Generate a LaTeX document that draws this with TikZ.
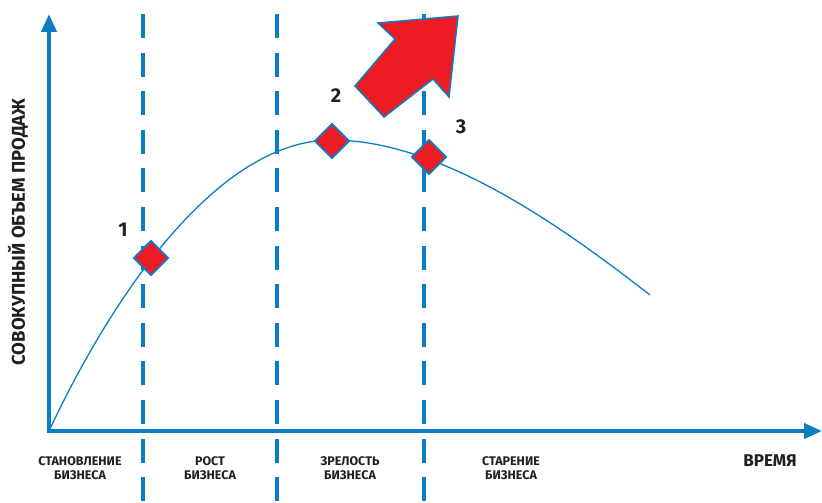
\documentclass[tikz,border=0pt]{standalone}
\usepackage{fontspec}
\setmainfont{Fira Sans}
\usetikzlibrary{positioning,arrows.meta,shapes.geometric}
\definecolor{lineblue}{HTML}{0B7DC4}
\definecolor{markred}{HTML}{ED1C24}
\definecolor{textdark}{HTML}{231F20}
\tikzset{
    x=1pt,
    y=-1pt,
    axis/.style = {
        draw=lineblue,
        line width=4pt,
        -{Triangle[length=18pt,width=15pt]}
    },
    stage/.style = {
        draw=lineblue,
        line width=4pt,
        dash pattern=on 24pt off 14.6pt
    },
    curve/.style = {
        draw=lineblue,
        line width=1.3pt
    },
    marker/.style = {
        draw=lineblue,
        shape=diamond,
        fill=markred,
        minimum size=35pt,
        inner sep=0pt,
        line width=1.8pt
    },
    number/.style = {
        font=\fontsize{20}{20}\selectfont\bfseries,
        text=textdark
    },
    phase/.style = {
        font=\fontsize{12.5}{13.5}\selectfont\bfseries,
        align=center,
        text=textdark
    },
    axislabel/.style = {
        font=\fontsize{18.5}{19}\selectfont\bfseries,
        text=textdark
    },
    growth/.style = {
        draw=lineblue,
        fill=markred,
        line width=1.5pt,
        line join=miter
    }
}
\begin{document}
\begin{tikzpicture}
            \useasboundingbox (0,0) rectangle (822,503);

            \coordinate (o) at (49,431);
            \coordinate (ytop) at (49,14);
            \coordinate (xend) at (822,431);
            \coordinate (peak) at (332,140);
            \coordinate (tail) at (650,295);

            \foreach \x/\n in {143/a,277/b,424/c} {
                \coordinate (\n top) at (\x,14);
                \coordinate (\n bot) at (\x,503);
                \path[stage] (\n top) -- (\n bot);
            }

            \path[axis] ([yshift=-2pt]o) -- (ytop);
            \path[axis] ([xshift=-2pt]o) -- (xend);

            \path[curve] (o) .. controls (115,290) and (220,140) .. (peak) .. controls (440,140) and (560,225) .. (tail);

            \path[growth] (458,16) -- (378,23) -- (395,39) -- (355,86) -- (384,117) -- (433,79) -- (449,97) -- cycle;

            \node[marker] (m1) at (151,258) {};
            \node[marker] (m2) at (332,141) {};
            \node[marker] (m3) at (429,157) {};

            \node[number] (n1) at (123,230) {1};
            \node[number] (n2) at (336,96) {2};
            \node[number] (n3) at (461,127) {3};

            \node[axislabel, rotate=90] (sales) at (18,232) {СОВОКУПНЫЙ ОБЪЕМ ПРОДАЖ};
            \node[axislabel, font=\fontsize{17}{17}\selectfont\bfseries] (time) at (770,461) {ВРЕМЯ};

            \node[phase] (p1) at (80,468) {СТАНОВЛЕНИЕ\\БИЗНЕСА};
            \node[phase] (p2) at (210,468) {РОСТ\\БИЗНЕСА};
            \node[phase] (p3) at (350,468) {ЗРЕЛОСТЬ\\БИЗНЕСА};
            \node[phase] (p4) at (511,468) {СТАРЕНИЕ\\БИЗНЕСА};

        \end{tikzpicture}
\end{document}
